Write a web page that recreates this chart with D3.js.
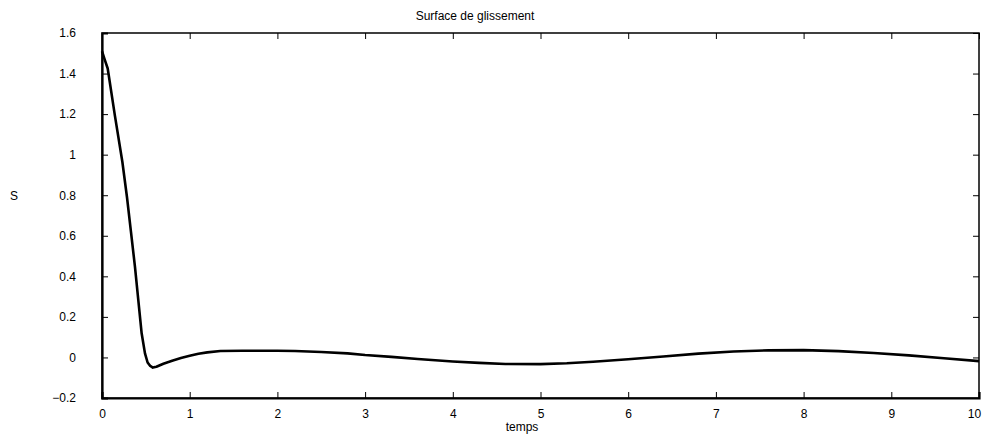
<!DOCTYPE html>
<html>
<head>
<meta charset="utf-8">
<script src="https://d3js.org/d3.v7.min.js"></script>
<style>
  body { margin: 0; background: #fff; }
  svg text { font-family: "Liberation Sans", Arial, sans-serif; font-size: 12px; fill: #000; }
  .axis path, .axis line { stroke: #000; }
</style>
</head>
<body>
<div id="chart"></div>
<script>
// data
const timeValues = [0, 0.03, 0.065, 0.148, 0.232, 0.285, 0.33, 0.376, 0.414, 0.452, 0.49, 0.52, 0.55, 0.58, 0.62, 0.7, 0.8, 0.9, 1.0, 1.1, 1.2, 1.35, 1.6, 1.8, 2.0, 2.2, 2.5, 2.8, 3.0, 3.3, 3.6, 4.0, 4.3, 4.6, 5.0, 5.3, 5.6, 6.0, 6.4, 6.8, 7.2, 7.6, 8.0, 8.4, 8.8, 9.2, 9.6, 10];
const sValues = [1.51, 1.47, 1.425, 1.19, 0.965, 0.79, 0.62, 0.447, 0.283, 0.119, 0.02, -0.025, -0.042, -0.05, -0.046, -0.031, -0.016, -0.003, 0.008, 0.018, 0.025, 0.032, 0.033, 0.033, 0.033, 0.032, 0.027, 0.02, 0.012, 0.003, -0.008, -0.02, -0.027, -0.032, -0.033, -0.029, -0.021, -0.009, 0.005, 0.019, 0.029, 0.035, 0.036, 0.031, 0.022, 0.01, -0.004, -0.018];
const xTicks = [0, 1, 2, 3, 4, 5, 6, 7, 8, 9, 10];
const yTicks = [-0.2, 0, 0.2, 0.4, 0.6, 0.8, 1, 1.2, 1.4, 1.6];

const W = 984, H = 441;
const margin = {top: 33, right: 5, bottom: 43, left: 102};
const width = W - margin.left - margin.right;
const height = H - margin.top - margin.bottom;

const svg = d3.select("#chart").append("svg")
    .attr("width", W)
    .attr("height", H);

const g = svg.append("g")
    .attr("transform", `translate(${margin.left}, ${margin.top})`);

const x = d3.scaleLinear().domain([0, 10]).range([0, width]);
const y = d3.scaleLinear().domain([-0.2, 1.6]).range([height, 0]);

// frame
g.append("rect")
    .attr("width", width)
    .attr("height", height)
    .attr("fill", "none")
    .attr("stroke", "#000")
    .attr("stroke-width", 1.5);

// axes, ticks point inward
const xAxisG = g.append("g").attr("class", "axis")
    .attr("transform", `translate(0, ${height})`)
    .call(d3.axisBottom(x).tickValues(xTicks).tickSize(-6).tickPadding(11).tickFormat(d3.format("d")))
    .call(a => a.select(".domain").attr("stroke-width", 2.2));

// keep last label inside the window
xAxisG.selectAll(".tick text").filter(d => d === 10).attr("dx", -5);

g.append("g").attr("class", "axis")
    .call(d3.axisTop(x).tickValues(xTicks).tickSize(-6).tickFormat(""))
    .call(a => a.select(".domain").remove());

g.append("g").attr("class", "axis")
    .call(d3.axisLeft(y).tickValues(yTicks).tickSize(-6).tickPadding(26).tickFormat(d => d3.format("")(+d.toFixed(1))))
    .call(a => a.select(".domain").attr("stroke-width", 2.2));

g.append("g").attr("class", "axis")
    .attr("transform", `translate(${width}, 0)`)
    .call(d3.axisRight(y).tickValues(yTicks).tickSize(-6).tickFormat(""))
    .call(a => a.select(".domain").remove());

g.selectAll(".axis text").attr("font-size", 12);

// curve
const points = timeValues.map((t, i) => [t, sValues[i]]);
g.append("path")
    .datum(points)
    .attr("fill", "none")
    .attr("stroke", "#000")
    .attr("stroke-width", 2.6)
    .attr("stroke-linejoin", "round")
    .attr("d", d3.line().x(d => x(d[0])).y(d => y(d[1])));

// labels
svg.append("text")
    .attr("x", 475).attr("y", 20)
    .attr("text-anchor", "middle")
    .text("Surface de glissement");

svg.append("text")
    .attr("x", 522).attr("y", 431)
    .attr("text-anchor", "middle")
    .text("temps");

svg.append("text")
    .attr("x", 14).attr("y", 200)
    .attr("text-anchor", "middle")
    .text("S");
</script>
</body>
</html>
